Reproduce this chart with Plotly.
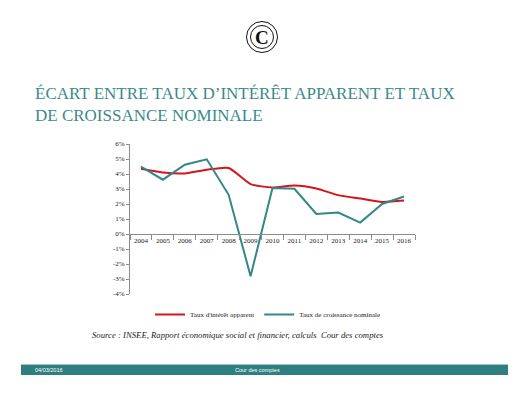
import plotly.graph_objects as go

years = ["2004", "2005", "2006", "2007", "2008", "2009", "2010",
         "2011", "2012", "2013", "2014", "2015", "2016"]
taux_interet = [4.35, 4.10, 4.04, 4.28, 4.40, 3.33, 3.10, 3.24, 3.04, 2.59, 2.37, 2.14, 2.23]
taux_croissance = [4.49, 3.62, 4.62, 4.98, 2.61, -2.81, 3.06, 3.01, 1.34, 1.43, 0.76, 2.00, 2.50]
y_tickvals = [-4, -3, -2, -1, 0, 1, 2, 3, 4, 5, 6]
y_ticktext = ["-4%", "-3%", "-2%", "-1%", "0%", "1%", "2%", "3%", "4%", "5%", "6%"]

W, H = 528, 396
L, R, T, B = 130, 415, 144, 294


def px(x):
    return (x - L) / (R - L)


def py(y):
    return (B - y) / (B - T)


fig = go.Figure()
fig.add_trace(go.Scatter(x=years, y=taux_interet, mode="lines",
                         name="Taux d'intérêt apparent",
                         line=dict(color="#D4141A", width=2, shape="spline", smoothing=0.6)))
fig.add_trace(go.Scatter(x=years, y=taux_croissance, mode="lines",
                         name="Taux de croissance nominale",
                         line=dict(color="#31878A", width=2)))

serif = "Liberation Serif, Times New Roman, serif"

fig.update_layout(
    width=W, height=H,
    margin=dict(l=L, r=W - R, t=T, b=H - B, pad=0),
    paper_bgcolor="white", plot_bgcolor="white",
    font=dict(family=serif, size=7, color="#222"),
    showlegend=True,
    legend=dict(orientation="h", x=px(150), y=py(300), xanchor="left", yanchor="top",
                font=dict(family=serif, size=7, color="#222"),
                itemwidth=30, tracegroupgap=0, bgcolor="rgba(0,0,0,0)"),
    xaxis=dict(type="category", range=[-0.5, 12.5], anchor="free", position=0.4,
               showline=True, linecolor="#8C8C8C", linewidth=1,
               ticks="outside", ticklen=5, tickcolor="#8C8C8C", tickson="boundaries",
               showgrid=False, zeroline=False, tickangle=0,
               tickfont=dict(family=serif, size=7, color="#222")),
    yaxis=dict(range=[-4, 6], tickvals=y_tickvals, ticktext=y_ticktext,
               showline=True, linecolor="#8C8C8C", linewidth=1,
               ticks="outside", ticklen=3, tickcolor="#8C8C8C",
               showgrid=False, zeroline=False,
               tickfont=dict(family=serif, size=7, color="#222")),
)

shapes = []
# logo
cx, cy = 262, 37
for r, w in [(15.5, 1), (11.5, 1)]:
    shapes.append(dict(type="circle", xref="paper", yref="paper",
                       x0=px(cx - r), x1=px(cx + r), y0=py(cy + r), y1=py(cy - r),
                       line=dict(color="#111", width=w)))
# footer bar
shapes.append(dict(type="rect", xref="paper", yref="paper",
                   x0=px(21), x1=px(508), y0=py(375), y1=py(365),
                   fillcolor="#2E8080", line=dict(width=0), layer="below"))
shapes.append(dict(type="line", xref="paper", yref="paper",
                   x0=px(21), x1=px(508), y0=py(364.5), y1=py(364.5),
                   line=dict(color="#9CC7C7", width=1)))
fig.update_layout(shapes=shapes)

annotations = [
    dict(text="<b>C</b>", x=px(cx), y=py(cy + 1), xref="paper", yref="paper", showarrow=False,
         font=dict(family=serif, size=19, color="#111"), xanchor="center", yanchor="middle"),
    dict(text="ÉCART ENTRE TAUX D’INTÉRÊT APPARENT ET TAUX<br>DE CROISSANCE NOMINALE",
         x=px(33), y=py(82), xref="paper", yref="paper", showarrow=False,
         xanchor="left", yanchor="top", align="left",
         font=dict(family=serif, size=17, color="#3A8A8A")),
    dict(text="<i>Source : INSEE, Rapport économique social et financier, calculs  Cour des comptes</i>",
         x=px(90), y=py(335), xref="paper", yref="paper", showarrow=False,
         xanchor="left", yanchor="middle",
         font=dict(family=serif, size=8.7, color="#222")),
    dict(text="04/03/2016", x=px(33), y=py(370), xref="paper", yref="paper", showarrow=False,
         xanchor="left", yanchor="middle",
         font=dict(family="Liberation Sans, Arial, sans-serif", size=5.5, color="white")),
    dict(text="Cour des comptes", x=px(257), y=py(370), xref="paper", yref="paper", showarrow=False,
         xanchor="center", yanchor="middle",
         font=dict(family="Liberation Sans, Arial, sans-serif", size=5.5, color="white")),
]
fig.update_layout(annotations=annotations)

fig.write_html("out.html", config={"displayModeBar": False},
               post_script="document.body.style.margin='0';")
